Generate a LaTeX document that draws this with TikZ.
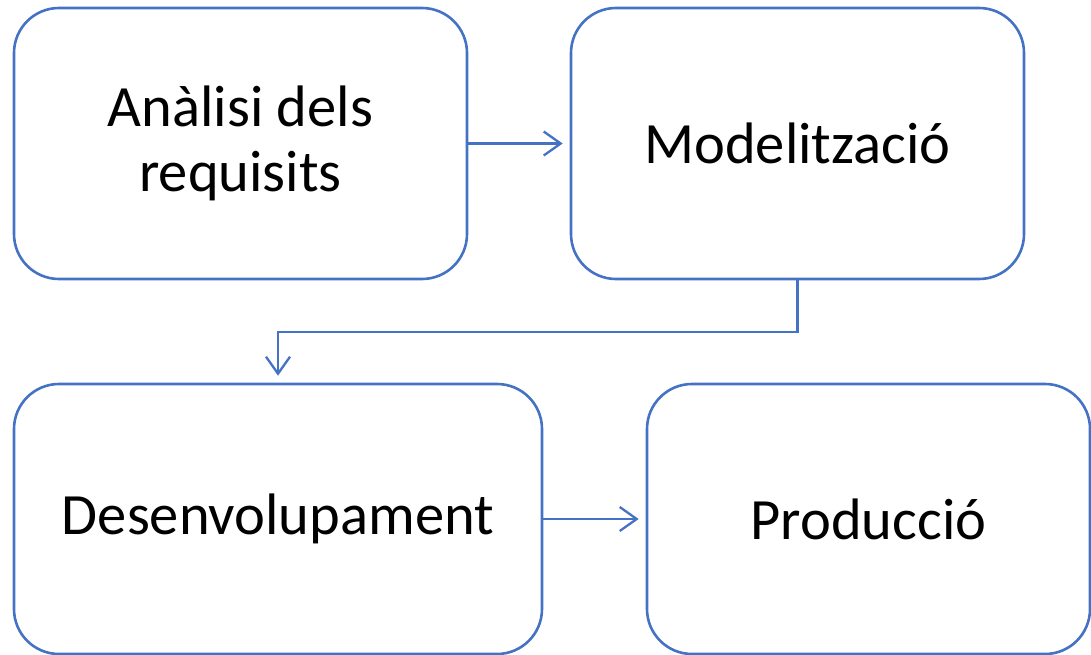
\documentclass[tikz,border=0pt]{standalone}
\usepackage{fontspec}
\setmainfont{Carlito}
\usetikzlibrary{arrows.meta}
\definecolor{boxblue}{HTML}{4472C4}
\tikzset{
  stagebox/.style={draw=boxblue, line width=2.6pt, rounded corners=45pt, fill=white,
    align=center, inner sep=0pt, font=\fontsize{58.5}{65}\selectfont},
  flow/.style={draw=boxblue, line width=2.3pt, shorten >=7pt,
    -{Straight Barb[length=17pt,width=24pt,line width=2.3pt]}}
}
\begin{document}
\begin{tikzpicture}[x=1pt,y=-1pt]
\useasboundingbox (0,0) rectangle (1091,655);
\node[stagebox, minimum width=453pt, minimum height=271pt] (a) at (240.5,143.5) {Anàlisi dels\\requisits};
\node[stagebox, minimum width=453pt, minimum height=271pt] (m) at (797.5,143.5) {Modelització};
\node[stagebox, minimum width=528pt, minimum height=270pt] (d) at (278,519) {Desenvolupament};
\node[stagebox, minimum width=443pt, minimum height=270pt] (p) at (868.5,519) {Producció};
\draw[flow] (a.east) -- (m.west);
\draw[flow] (m.south) -- ++(0,52) coordinate (k) -| (d.north);
\draw[flow] (d.east) -- (p.west);
\end{tikzpicture}
\end{document}
